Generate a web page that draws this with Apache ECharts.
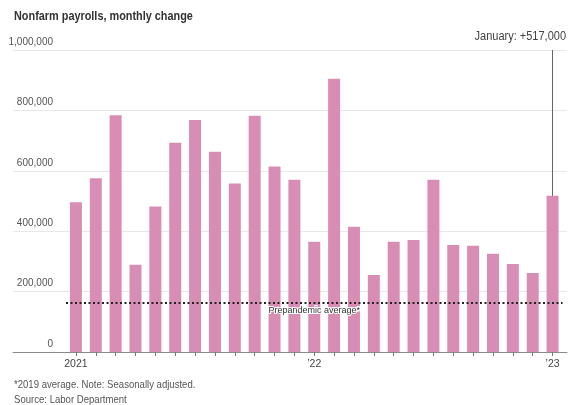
<!DOCTYPE html>
<html>
<head>
<meta charset="utf-8">
<script src="https://cdn.jsdelivr.net/npm/echarts@6/dist/echarts.min.js"></script>
<style>
  html, body { margin: 0; padding: 0; background: #fff; }
  #chart { width: 572px; height: 405px; }
</style>
</head>
<body>
<div id="chart"></div>
<script>
const months = [
  '2021-01', '2021-02', '2021-03', '2021-04', '2021-05', '2021-06',
  '2021-07', '2021-08', '2021-09', '2021-10', '2021-11', '2021-12',
  '2022-01', '2022-02', '2022-03', '2022-04', '2022-05', '2022-06',
  '2022-07', '2022-08', '2022-09', '2022-10', '2022-11', '2022-12',
  '2023-01'
]
const payrolls = [
  496000, 575000, 784000, 289000, 482000, 693000,
  768000, 663000, 558000, 782000, 614000, 570000,
  365000, 905000, 415000, 255000, 365000, 371000,
  570000, 354000, 352000, 325000, 291000, 262000,
  517000
]
const yearLabels = { '2021-01': '2021', '2022-01': '\u201922', '2023-01': '\u201923' }
const prepandemicAvg = 164000
const yMax = 1000000
const yStep = 200000

const font = "'Liberation Sans', Arial, sans-serif"
const fmt = v => v.toLocaleString('en-US')
const last = payrolls[payrolls.length - 1]

const chart = echarts.init(document.getElementById('chart'))

// the original type is a narrow face, squeeze the free text horizontally
const option = {
  animation: false,
  textStyle: { fontFamily: font },
  graphic: [
    {
      type: 'text',
      left: 14,
      top: 10,
      scaleX: 0.87,
      style: { text: 'Nonfarm payrolls, monthly change', font: `bold 12.5px ${font}`, fill: '#333' }
    },
    {
      type: 'text',
      right: 6,
      top: 30,
      scaleX: 0.88,
      originX: 96,
      style: { text: `January: +${fmt(last)}`, font: `12.5px ${font}`, fill: '#444' }
    },
    {
      type: 'text',
      left: 14,
      top: 377,
      scaleX: 0.87,
      style: {
        text: '*2019 average. Note: Seasonally adjusted.\nSource: Labor Department',
        font: `11px ${font}`,
        fill: '#555',
        lineHeight: 15
      }
    }
  ],
  grid: [
    { left: 13, right: 5, top: 50, bottom: 53 },
    { left: 66, right: 9.5, top: 50, bottom: 53 }
  ],
  xAxis: [
    {
      gridIndex: 0,
      type: 'value',
      min: 0,
      max: 1,
      axisLine: { show: true, onZero: false, lineStyle: { color: '#8a8a8a', width: 1 } },
      axisTick: { show: false },
      axisLabel: { show: false },
      splitLine: { show: false }
    },
    {
      gridIndex: 1,
      type: 'category',
      data: months,
      axisLine: { show: false },
      axisTick: {
        show: true,
        alignWithLabel: true,
        interval: 0,
        length: 4,
        lineStyle: { color: '#777' }
      },
      axisLabel: {
        interval: 0,
        margin: 7,
        fontSize: 10.5,
        color: '#444',
        fontFamily: font,
        formatter: v => yearLabels[v] || ''
      }
    }
  ],
  yAxis: [
    {
      gridIndex: 0,
      type: 'value',
      min: 0,
      max: yMax,
      interval: yStep,
      axisLine: { show: false },
      axisTick: { show: false },
      axisLabel: {
        inside: true,
        margin: 40,
        align: 'right',
        verticalAlign: 'bottom',
        padding: [0, 0, 3, 0],
        fontSize: 10,
        color: '#555',
        fontFamily: font,
        formatter: v => fmt(v)
      },
      splitLine: { lineStyle: { color: '#e8e8e8', width: 1 } }
    },
    {
      gridIndex: 1,
      type: 'value',
      min: 0,
      max: yMax,
      show: false
    }
  ],
  series: [
    {
      type: 'bar',
      xAxisIndex: 1,
      yAxisIndex: 1,
      data: payrolls,
      barWidth: 12,
      itemStyle: { color: '#d88eb4' },
      markLine: {
        silent: true,
        symbol: 'none',
        data: [
          {
            yAxis: prepandemicAvg,
            lineStyle: { type: [2, 2.5], color: '#222', width: 2 },
            label: {
              show: true,
              position: 'insideMiddleBottom',
              distance: 4,
              formatter: 'Prepandemic average*',
              fontSize: 9,
              color: '#333',
              fontFamily: font,
              textBorderColor: '#fff',
              textBorderWidth: 2
            }
          },
          [
            {
              coord: [months[months.length - 1], last],
              lineStyle: { type: 'solid', color: '#666', width: 1 },
              label: { show: false }
            },
            { coord: [months[months.length - 1], yMax] }
          ]
        ]
      }
    }
  ]
}

chart.setOption(option)
</script>
</body>
</html>
